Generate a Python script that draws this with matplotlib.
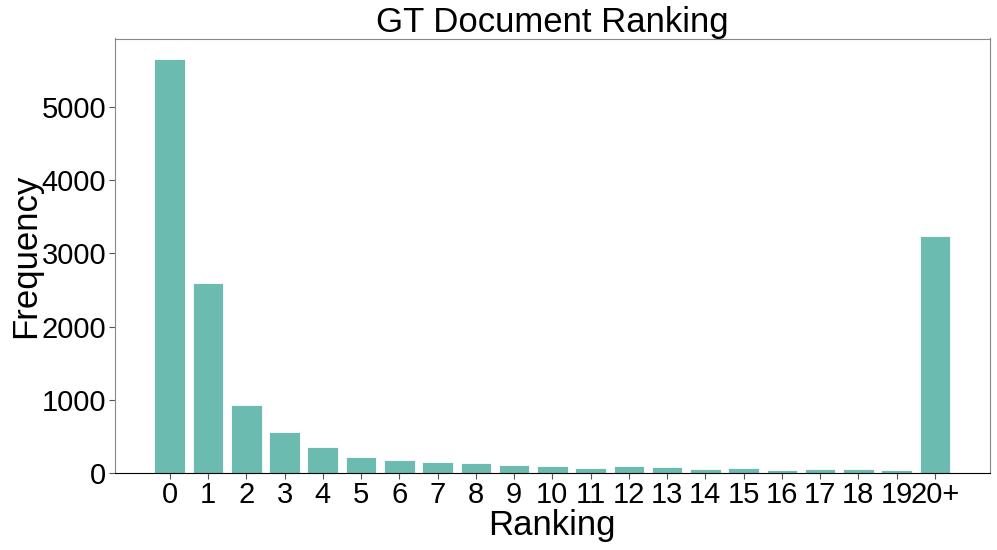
import matplotlib
matplotlib.use("Agg")
import matplotlib.pyplot as plt

# data
rankings = [str(i) for i in range(20)] + ["20+"]
frequency = [5650, 2590, 930, 565, 360, 225, 182, 150, 130, 105,
             100, 72, 90, 77, 60, 68, 46, 55, 55, 46, 3230]

plt.rcParams["font.family"] = ["Liberation Sans", "DejaVu Sans"]

fig, ax = plt.subplots(figsize=(9.97, 5.5), dpi=100)
ax.bar(range(len(rankings)), frequency, width=0.8, color="#6bbbb1",
       edgecolor="white", linewidth=0.6)

ax.set_xticks(range(len(rankings)))
ax.set_xticklabels(rankings, fontsize=21)
ax.tick_params(axis="y", labelsize=21)
ax.tick_params(axis="both", color="#555555", length=4, pad=2)

ax.set_xlabel("Ranking", fontsize=25, labelpad=0)
ax.set_ylabel("Frequency", fontsize=25, labelpad=0)
ax.set_title("GT Document Ranking", fontsize=25, pad=2)

for side in ["left", "top", "right"]:
    ax.spines[side].set_color("#888888")
ax.spines["bottom"].set_color("black")

plt.subplots_adjust(left=0.115, right=0.993, top=0.93, bottom=0.14)
plt.savefig("out.png", dpi=100)
